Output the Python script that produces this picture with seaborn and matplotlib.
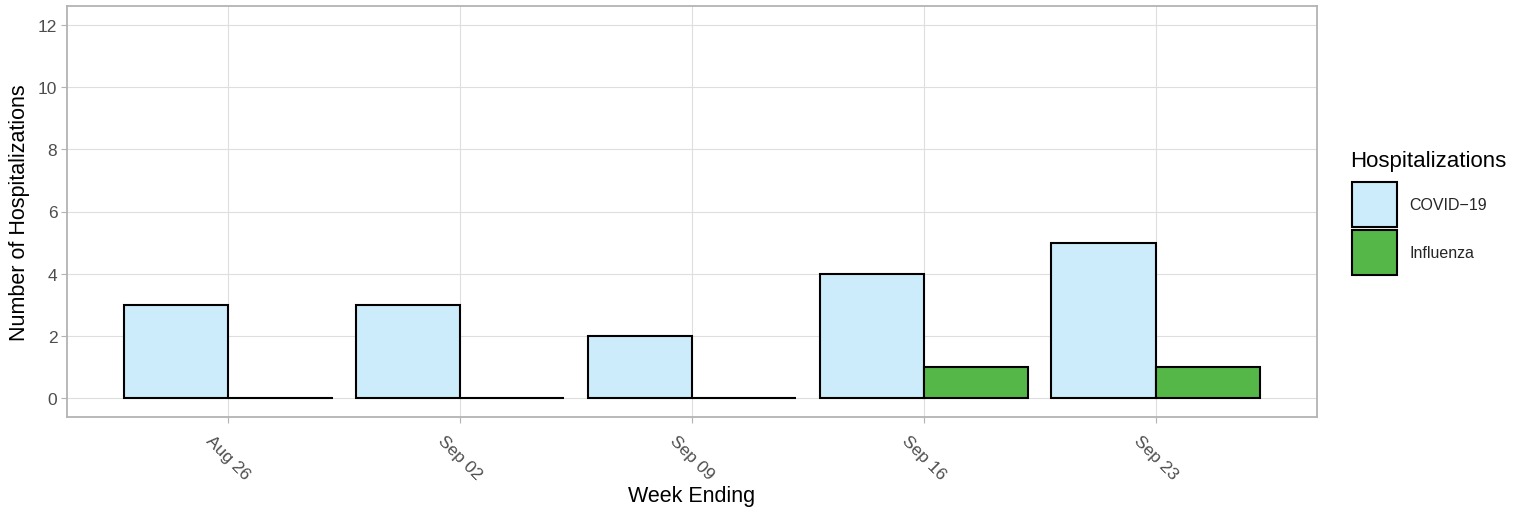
import matplotlib
matplotlib.use("Agg")
import matplotlib.pyplot as plt
import seaborn as sns
import pandas as pd
from matplotlib.patches import Patch

weeks = ["Aug 26", "Sep 02", "Sep 09", "Sep 16", "Sep 23"]
covid = [3, 3, 2, 4, 5]
flu = [0, 0, 0, 1, 1]
groups = ["COVID\u221219", "Influenza"]
colors = ["#CCEBFB", "#55B748"]

df = pd.DataFrame({
    "week": weeks * 2,
    "count": covid + flu,
    "type": [groups[0]] * len(weeks) + [groups[1]] * len(weeks),
})

sns.set_theme(style="white")
plt.rcParams["font.family"] = ["Liberation Sans", "DejaVu Sans"]

fig = plt.figure(figsize=(15.28, 5.10), dpi=100)
ax = fig.add_axes([67 / 1528, 1 - 418 / 510, 1250 / 1528, 411 / 510])

sns.barplot(data=df, x="week", y="count", hue="type", order=weeks,
            hue_order=groups, palette=colors, width=0.9, dodge=True,
            edgecolor="black", linewidth=1.5, saturation=1, ax=ax,
            legend=False, zorder=3)

ax.set_xlim(-0.695, 4.695)
ax.set_ylim(-0.6, 12.6)
ax.set_yticks([0, 2, 4, 6, 8, 10, 12])
ax.grid(True, color="#DEDEDE", linewidth=0.8, zorder=0)
ax.set_axisbelow(True)
for s in ax.spines.values():
    s.set_color("#B3B3B3")
    s.set_linewidth(1.3)

ax.tick_params(axis="both", length=4, width=0.8, color="#B3B3B3",
               labelcolor="#4D4D4D", labelsize=12.5, pad=3, bottom=True, left=True)
ax.tick_params(axis="x", pad=7)
plt.setp(ax.get_xticklabels(), rotation=-45, ha="center", va="top")

ax.set_xlabel("Week Ending", fontsize=15.5, color="black", labelpad=2.5)
ax.set_ylabel("Number of Hospitalizations", fontsize=15.5, color="black", labelpad=6)

fig.text(1350 / 1528, 1 - 161 / 510, "Hospitalizations", fontsize=16,
         color="black", ha="left", va="center")
handles = [Patch(facecolor=c, edgecolor="black", linewidth=1.5) for c in colors]
leg = fig.legend(handles, groups, loc="upper left",
                 bbox_to_anchor=(1352 / 1528, 1 - 183 / 510), frameon=False,
                 fontsize=11.5, handlelength=2.8, handleheight=3.95,
                 labelspacing=0.2, handletextpad=0.8, borderpad=0,
                 borderaxespad=0)

fig.savefig("out.png", dpi=100)
